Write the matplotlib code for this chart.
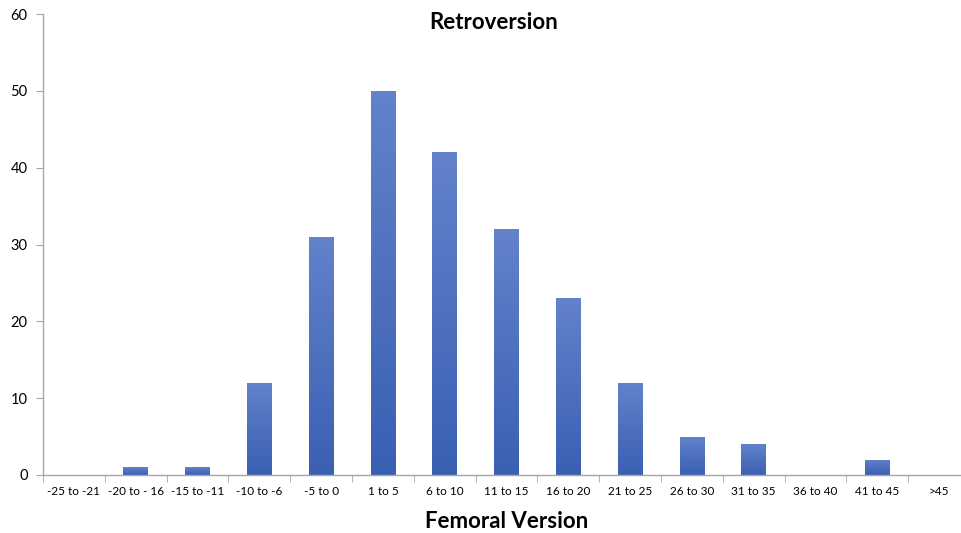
import matplotlib
matplotlib.use("Agg")
import matplotlib.pyplot as plt
import numpy as np
from matplotlib.colors import LinearSegmentedColormap

categories = ["-25 to -21", "-20 to - 16", "-15 to -11", "-10 to -6", "-5 to 0",
              "1 to 5", "6 to 10", "11 to 15", "16 to 20", "21 to 25",
              "26 to 30", "31 to 35", "36 to 40", "41 to 45", ">45"]
values = [0, 1, 1, 12, 31, 50, 42, 32, 23, 12, 5, 4, 0, 2, 0]
yticks = [0, 10, 20, 30, 40, 50, 60]

plt.rcParams['font.family'] = ['Lato', 'DejaVu Sans']

fig = plt.figure(figsize=(9.62, 5.33), dpi=100)
ax = fig.add_axes([43/962, 58/533, 927/962, 461/533])

x = np.arange(len(categories))
bars = ax.bar(x, values, width=0.4, color='none', edgecolor='none')

cmap = LinearSegmentedColormap.from_list('g', ['#3a60b2', '#6282cb'])
grad = np.linspace(0, 1, 256).reshape(-1, 1)
for b in bars:
    h = b.get_height()
    if h <= 0:
        continue
    x0 = b.get_x()
    w = b.get_width()
    im = ax.imshow(grad, extent=[x0, x0 + w, 0, h], origin='lower', cmap=cmap,
                   aspect='auto', zorder=2)
    im.set_clip_path(b)

ax.set_xlim(-0.5, len(categories) - 0.5)
ax.set_ylim(0, 60)
ax.set_yticks(yticks)
ax.set_yticklabels([str(v) for v in yticks], fontsize=10.5)
ax.set_xticks(x)
ax.set_xticklabels(categories, fontsize=8.5)
ax.set_xticks(np.arange(-0.5, len(categories), 1), minor=True)
ax.tick_params(axis='x', which='major', length=0, pad=8)
ax.tick_params(axis='x', which='minor', length=5, color='#a6a6a6', direction='out')
ax.tick_params(axis='y', length=5, color='#a6a6a6', direction='out', pad=6)

for s in ['top', 'right']:
    ax.spines[s].set_visible(False)
for s in ['left', 'bottom']:
    ax.spines[s].set_color('#a6a6a6')
    ax.spines[s].set_linewidth(1.0)

fig.text(494/962, 1 - 22/533, "Retroversion", ha='center', va='center',
         fontsize=16, fontweight='bold')
fig.text(507/962, 1 - 521/533, "Femoral Version", ha='center', va='center',
         fontsize=16, fontweight='bold')

fig.savefig("out.png", dpi=100)
